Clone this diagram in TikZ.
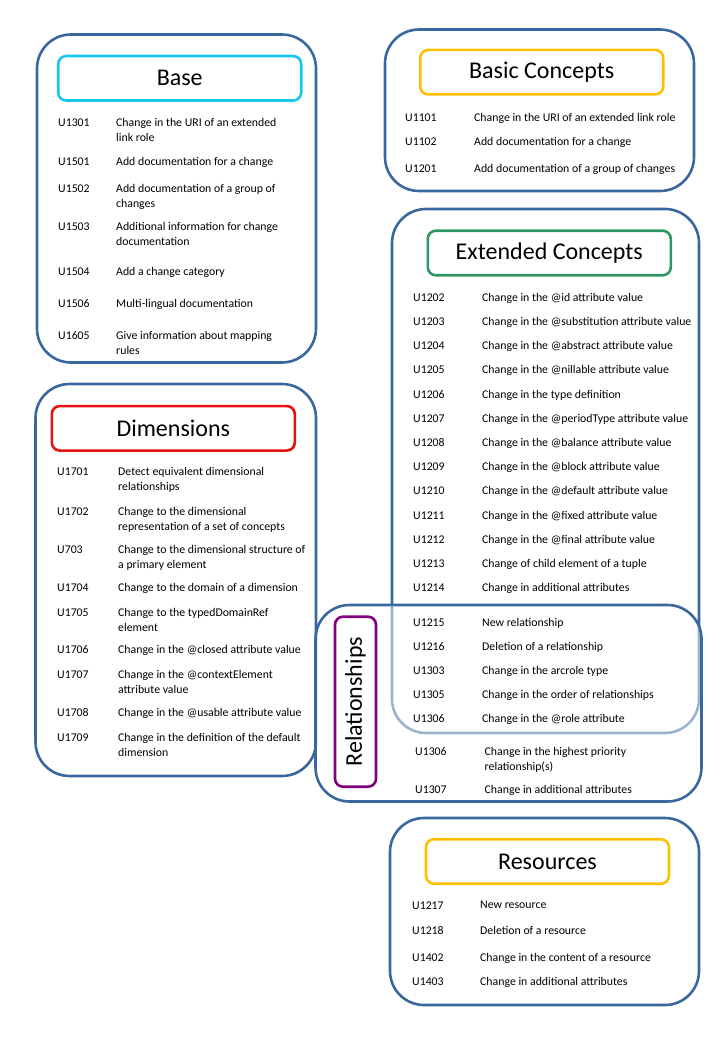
\documentclass[tikz,border=0pt]{standalone}
\usepackage{fontspec}
\setmainfont{Carlito}

\definecolor{frameblue}{RGB}{58,104,158}
\definecolor{basecyan}{RGB}{24,198,240}
\definecolor{gold}{RGB}{255,192,0}
\definecolor{extgreen}{RGB}{46,150,100}
\definecolor{dimred}{RGB}{232,16,16}
\definecolor{relpurple}{RGB}{128,0,128}

\tikzset{
	panel/.style={draw=frameblue, line width=2.6pt, rounded corners=34pt},
	headbox/.style={draw=#1, line width=2.6pt, rounded corners=8pt, minimum width=243pt, minimum height=44.5pt, font=\fontsize{24}{28}\selectfont},
	uid/.style={anchor=north west, inner sep=0pt, yshift=0.7pt, execute at begin node=\vphantom{Ch}, font=\fontsize{11.8}{15}\selectfont},
	udesc/.style={anchor=north west, inner sep=0pt, yshift=0.7pt, align=left, font=\fontsize{11.8}{15}\selectfont},
}

\begin{document}
\begin{tikzpicture}[x=1pt, y=-1pt]
		\useasboundingbox (0,0) rectangle (720,1040);

		% outer frames
		\node[panel, minimum width=279pt, minimum height=328pt] (base) at (176.5,198.5) {};
		\node[panel, minimum width=309pt, minimum height=161.5pt] (basic) at (539.5,110.25) {};
		\node[panel, minimum width=307pt, minimum height=524pt] (ext) at (545.5,471) {};
		\node[panel, minimum width=280.5pt, minimum height=392pt] (dim) at (175.75,580) {};
		\node[panel, fill=white, fill opacity=0.5, minimum width=386pt, minimum height=196.5pt] (rel) at (508.5,703.25) {};
		\node[panel, minimum width=309pt, minimum height=187pt] (res) at (544.5,911.5) {};

		% titles
		\node[headbox=basecyan] (basetitle) at (179.7,78.3) {Base};
		\node[headbox=gold] (basictitle) at (541.7,72.2) {Basic Concepts};
		\node[headbox=extgreen] (exttitle) at (549.3,253) {Extended Concepts};
		\node[headbox=dimred] (dimtitle) at (173.3,428.3) {Dimensions};
		\node[headbox=relpurple, rotate=90, minimum width=170pt, minimum height=41pt] (reltitle) at (355.5,701.7) {Relationships};
		\node[headbox=gold] (restitle) at (547.5,861.5) {Resources};

		% Base
		\node[uid] (b1id) at (58,118.5) {U1301};
		\node[udesc] (b1) at (116,118.5) {Change in the URI of an extended\\link role};
		\node[uid] (b2id) at (58,157.5) {U1501};
		\node[udesc] (b2) at (116,157.5) {Add documentation for a change};
		\node[uid] (b3id) at (58,184.5) {U1502};
		\node[udesc] (b3) at (116,184.5) {Add documentation of a group of\\changes};
		\node[uid] (b4id) at (58,222.5) {U1503};
		\node[udesc] (b4) at (116,222.5) {Additional information for change\\documentation};
		\node[uid] (b5id) at (58,267.5) {U1504};
		\node[udesc] (b5) at (116,267.5) {Add a change category};
		\node[uid] (b6id) at (58,299.5) {U1506};
		\node[udesc] (b6) at (116,299.5) {Multi-lingual documentation};
		\node[uid] (b7id) at (58,331.5) {U1605};
		\node[udesc] (b7) at (116,331.5) {Give information about mapping\\rules};

		% Basic Concepts
		\node[uid] (c1id) at (405,113.5) {U1101};
		\node[udesc] (c1) at (474,113.5) {Change in the URI of an extended link role};
		\node[uid] (c2id) at (405,138) {U1102};
		\node[udesc] (c2) at (474,138) {Add documentation for a change};
		\node[uid] (c3id) at (405,164.5) {U1201};
		\node[udesc] (c3) at (474,164.5) {Add documentation of a group of changes};

		% Extended Concepts
		\node[uid] (e1id) at (413,293.5) {U1202};
		\node[udesc] (e1) at (482,293.5) {Change in the @id attribute value};
		\node[uid] (e2id) at (413,317.5) {U1203};
		\node[udesc] (e2) at (482,317.5) {Change in the @substitution attribute value};
		\node[uid] (e3id) at (413,341.5) {U1204};
		\node[udesc] (e3) at (482,341.5) {Change in the @abstract attribute value};
		\node[uid] (e4id) at (413,365.5) {U1205};
		\node[udesc] (e4) at (482,365.5) {Change in the @nillable attribute value};
		\node[uid] (e5id) at (413,390.5) {U1206};
		\node[udesc] (e5) at (482,390.5) {Change in the type definition};
		\node[uid] (e6id) at (413,414.5) {U1207};
		\node[udesc] (e6) at (482,414.5) {Change in the @periodType attribute value};
		\node[uid] (e7id) at (413,438.5) {U1208};
		\node[udesc] (e7) at (482,438.5) {Change in the @balance attribute value};
		\node[uid] (e8id) at (413,462.5) {U1209};
		\node[udesc] (e8) at (482,462.5) {Change in the @block attribute value};
		\node[uid] (e9id) at (413,486.5) {U1210};
		\node[udesc] (e9) at (482,486.5) {Change in the @default attribute value};
		\node[uid] (e10id) at (413,511.5) {U1211};
		\node[udesc] (e10) at (482,511.5) {Change in the @fixed attribute value};
		\node[uid] (e11id) at (413,535.5) {U1212};
		\node[udesc] (e11) at (482,535.5) {Change in the @final attribute value};
		\node[uid] (e12id) at (413,559.5) {U1213};
		\node[udesc] (e12) at (482,559.5) {Change of child element of a tuple};
		\node[uid] (e13id) at (413,583.5) {U1214};
		\node[udesc] (e13) at (482,583.5) {Change in additional attributes};
		\node[uid] (e14id) at (413,618.5) {U1215};
		\node[udesc] (e14) at (482,618.5) {New relationship};
		\node[uid] (e15id) at (413,642.5) {U1216};
		\node[udesc] (e15) at (482,642.5) {Deletion of a relationship};
		\node[uid] (e16id) at (413,666.5) {U1303};
		\node[udesc] (e16) at (482,666.5) {Change in the arcrole type};
		\node[uid] (e17id) at (413,690.5) {U1305};
		\node[udesc] (e17) at (482,690.5) {Change in the order of relationships};
		\node[uid] (e18id) at (413,714.5) {U1306};
		\node[udesc] (e18) at (482,714.5) {Change in the @role attribute};

		% Relationships
		\node[uid] (r1id) at (415,747.5) {U1306};
		\node[udesc] (r1) at (484.5,747.5) {Change in the highest priority\\relationship(s)};
		\node[uid] (r2id) at (415,785.5) {U1307};
		\node[udesc] (r2) at (484.5,785.5) {Change in additional attributes};

		% Dimensions
		\node[uid] (d1id) at (57,468) {U1701};
		\node[udesc] (d1) at (118,468) {Detect equivalent dimensional\\relationships};
		\node[uid] (d2id) at (57,507.5) {U1702};
		\node[udesc] (d2) at (118,507.5) {Change to the dimensional\\representation of a set of concepts};
		\node[uid] (d3id) at (57,545.5) {U703};
		\node[udesc] (d3) at (118,545.5) {Change to the dimensional structure of\\a primary element};
		\node[uid] (d4id) at (57,583.5) {U1704};
		\node[udesc] (d4) at (118,583.5) {Change to the domain of a dimension};
		\node[uid] (d5id) at (57,608.5) {U1705};
		\node[udesc] (d5) at (118,608.5) {Change to the typedDomainRef\\element};
		\node[uid] (d6id) at (57,646) {U1706};
		\node[udesc] (d6) at (118,646) {Change in the @closed attribute value};
		\node[uid] (d7id) at (57,670.5) {U1707};
		\node[udesc] (d7) at (118,670.5) {Change in the @contextElement\\attribute value};
		\node[uid] (d8id) at (57,708.5) {U1708};
		\node[udesc] (d8) at (118,708.5) {Change in the @usable attribute value};
		\node[uid] (d9id) at (57,733.5) {U1709};
		\node[udesc] (d9) at (118,733.5) {Change in the definition of the default\\dimension};

		% Resources
		\node[uid] (s1id) at (412,901.5) {U1217};
		\node[udesc] (s1) at (480,901.5) {New resource};
		\node[uid] (s2id) at (412,926.5) {U1218};
		\node[udesc] (s2) at (480,926.5) {Deletion of a resource};
		\node[uid] (s3id) at (412,953.5) {U1402};
		\node[udesc] (s3) at (480,953.5) {Change in the content of a resource};
		\node[uid] (s4id) at (412,977.5) {U1403};
		\node[udesc] (s4) at (480,977.5) {Change in additional attributes};

	\end{tikzpicture}
\end{document}
